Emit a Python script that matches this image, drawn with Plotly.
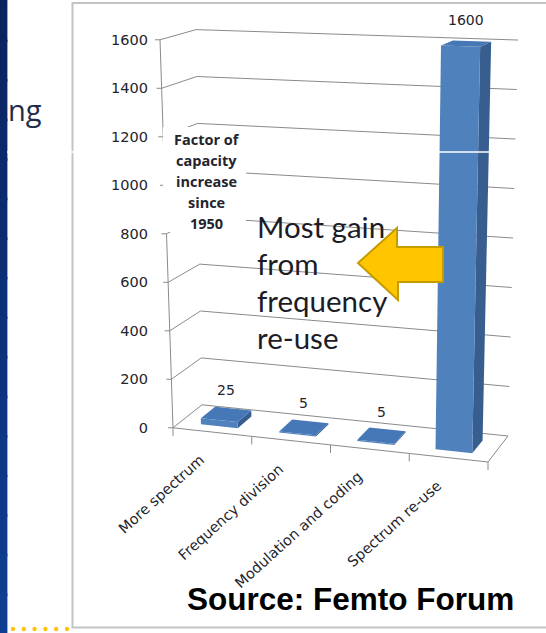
import plotly.graph_objects as go

# ---- chart content -------------------------------------------------------
categories = ["More spectrum", "Frequency division", "Modulation and coding", "Spectrum re-use"]
capacity_gain = [25, 5, 5, 1600]
value_ticks = [0, 200, 400, 600, 800, 1000, 1200, 1400, 1600]
value_tick_labels = [str(v) for v in value_ticks]
axis_caption = ["Factor of", "capacity", "increase", "since", "1950"]
callout_lines = ["Most gain", "from", "frequency", "re-use"]
source_text = "Source: Femto Forum"
heading_fragment = "ng"

# ---- page / axes geometry ------------------------------------------------
W, H = 546, 633
PLOT_LEFT = 152                      # px where the plotting area starts
VMAX = value_ticks[-1]
N = len(categories)
X_RANGE = [-0.7667, 4.2365]          # category units
Y_RANGE = [-846.2, 1764.1]           # value units

# Perspective box: projected corners of the front plane (depth 0) and of the
# back wall (depth 1). Key (s, t): s = 0/1 left/right end of the category
# axis, t = 0/1 floor/top of the value axis.  Result is in axis units.
FRONT = {(0, 0): (-0.5, 0.0), (0, 1): (-0.665, VMAX),
         (1, 0): (3.5, -141.0), (1, 1): (3.614, 1558.0)}
BACK = {(0, 0): (-0.132, 94.8), (0, 1): (-0.208, 1642.0),
        (1, 0): (3.754, -33.8), (1, 1): (3.881, 1599.0)}

BAR_HALF = 0.235        # half bar width, category units
BAR_DEPTH = (0.25, 0.75)

X_PER_PX = (X_RANGE[1] - X_RANGE[0]) / (W - PLOT_LEFT)
Y_PER_PX = (Y_RANGE[1] - Y_RANGE[0]) / H

GRID = "#8a8a8a"
TEXT = "#24242c"
FRONT_FILL, SIDE_FILL, TOP_FILL = "#4F81BD", "#375E8E", "#4677B6"


def proj(c, v, d):
    """Project (category position, value, depth) onto the 2-D axes."""
    s = (c + 0.5) / N
    t = v / VMAX
    w = {(0, 0): (1 - s) * (1 - t), (1, 0): s * (1 - t),
         (0, 1): (1 - s) * t, (1, 1): s * t}
    fx = sum(FRONT[k][0] * w[k] for k in w)
    fy = sum(FRONT[k][1] * w[k] for k in w)
    bx = sum(BACK[k][0] * w[k] for k in w)
    by = sum(BACK[k][1] * w[k] for k in w)
    return fx + (bx - fx) * d, fy + (by - fy) * d


def poly(points):
    xs = [p[0] for p in points] + [points[0][0]]
    ys = [p[1] for p in points] + [points[0][1]]
    return xs, ys


def line_trace(segments, color=GRID, width=1):
    xs, ys = [], []
    for seg in segments:
        for p in seg:
            xs.append(p[0])
            ys.append(p[1])
        xs.append(None)
        ys.append(None)
    return go.Scatter(x=xs, y=ys, mode="lines", hoverinfo="skip",
                      line=dict(color=color, width=width), showlegend=False)


fig = go.Figure()

left_c, right_c = -0.5, N - 0.5

# gridlines: side wall then back wall
grid = [[proj(left_c, v, 0), proj(left_c, v, 1), proj(right_c, v, 1)] for v in value_ticks]
fig.add_trace(line_trace(grid))

# floor front and right edges
fig.add_trace(line_trace([[proj(left_c, 0, 0), proj(right_c, 0, 0), proj(right_c, 0, 1)]]))

# category tick marks on the floor front edge
tick_down = 8 * Y_PER_PX
floor_ticks = []
for k in range(N + 1):
    x0, y0 = proj(left_c + k, 0, 0)
    floor_ticks.append([(x0, y0), (x0, y0 - tick_down)])
fig.add_trace(line_trace(floor_ticks))

# value axis line (front-left edge) and its tick marks
fig.add_trace(line_trace([[proj(left_c, v, 0) for v in (0, 800)],
                          [proj(left_c, v, 0) for v in (950, VMAX)]]))
tick_left = 5 * X_PER_PX
val_ticks = []
for v in value_ticks:
    x0, y0 = proj(left_c, v, 0)
    val_ticks.append([(x0 - tick_left, y0), (x0, y0)])
fig.add_trace(line_trace(val_ticks))

# 3-D bars
d0, d1 = BAR_DEPTH
for i, val in enumerate(capacity_gain):
    c0, c1 = i - BAR_HALF, i + BAR_HALF
    faces = [
        ([proj(c1, 0, d0), proj(c1, 0, d1), proj(c1, val, d1), proj(c1, val, d0)], SIDE_FILL),
        ([proj(c0, 0, d0), proj(c1, 0, d0), proj(c1, val, d0), proj(c0, val, d0)], FRONT_FILL),
        ([proj(c0, val, d0), proj(c1, val, d0), proj(c1, val, d1), proj(c0, val, d1)], TOP_FILL),
    ]
    for pts, col in faces:
        xs, ys = poly(pts)
        fig.add_trace(go.Scatter(x=xs, y=ys, mode="lines", fill="toself",
                                 fillcolor=col, line=dict(width=0, color=col),
                                 hoverinfo="skip", showlegend=False))

annotations = []

# value labels above each bar
for i, val in enumerate(capacity_gain):
    x, y = proj(i, val, 0.5)
    annotations.append(dict(x=x, y=y, xref="x", yref="y", text=str(val),
                            showarrow=False, yanchor="bottom", yshift=14,
                            font=dict(family="DejaVu Sans", size=14, color=TEXT)))

# rotated category labels under the floor
for i, name in enumerate(categories):
    x, y = proj(i, 0, 0)
    annotations.append(dict(x=x, y=y, xref="x", yref="y", text=name,
                            showarrow=False, textangle=-42,
                            xanchor="right", yanchor="top", yshift=-17, xshift=-2,
                            font=dict(family="DejaVu Sans", size=14.5, color=TEXT)))


def px(xp, yp):
    return xp / W, 1 - yp / H


# value axis caption
for k, line in enumerate(axis_caption):
    x, y = px(206.5, 139.5 + 21 * k)
    annotations.append(dict(x=x, y=y, xref="paper", yref="paper", text="<b>%s</b>" % line,
                            showarrow=False, xanchor="center", yanchor="middle",
                            font=dict(family="Open Sans", size=14.5, color=TEXT)))

# call-out text
for k, line in enumerate(callout_lines):
    x, y = px(255, 226 + 37.2 * k)
    annotations.append(dict(x=x, y=y, xref="paper", yref="paper", text=line,
                            showarrow=False, xanchor="left", yanchor="middle",
                            font=dict(family="Lato", size=29.5, color="#1c1c26")))

# source line
x, y = px(350, 599)
annotations.append(dict(x=x, y=y, xref="paper", yref="paper", text="<b>%s</b>" % source_text,
                        showarrow=False, xanchor="center", yanchor="middle",
                        font=dict(family="Liberation Sans", size=31.5, color="#000000")))

# heading fragment on the slide
x, y = px(6, 110)
annotations.append(dict(x=x, y=y, xref="paper", yref="paper", text=heading_fragment,
                        showarrow=False, xanchor="left", yanchor="middle",
                        font=dict(family="Open Sans", size=29, color="#222c48")))

shapes = []

# slide edge gradient strip (overlapping bands so no seams show)
bands = 16
for k in range(bands):
    f = k / (bands - 1)
    r = int(10 + f * (16 - 10))
    g = int(36 + f * (62 - 36))
    b = int(96 + f * (146 - 96))
    shapes.append(dict(type="rect", xref="paper", yref="paper", layer="below",
                       x0=0, x1=7 / W, y0=max(0, 1 - (k + 1) / bands - 0.004),
                       y1=1 - k / bands,
                       fillcolor="rgb(%d,%d,%d)" % (r, g, b),
                       line=dict(width=0.8, color="rgb(%d,%d,%d)" % (r, g, b))))

# chart frame
x0, y0 = px(72.5, 627.5)
x1, y1 = px(W + 10, 3)
shapes.append(dict(type="rect", xref="paper", yref="paper", layer="below",
                   x0=x0, x1=x1, y0=y0, y1=y1, line=dict(color="#c4c4c4", width=2)))

# decorative dotted rule
for k in range(6):
    cx, cy = px(13 + 10.8 * k, 629)
    shapes.append(dict(type="circle", xref="paper", yref="paper", layer="below",
                       x0=cx - 2.2 / W, x1=cx + 2.2 / W, y0=cy - 2.2 / H, y1=cy + 2.2 / H,
                       fillcolor="#FFC20E", line=dict(width=0)))

# white backing of the axis caption box
x0, y0 = px(163, 232)
x1, y1 = px(246, 127)
shapes.append(dict(type="rect", xref="paper", yref="paper", layer="above",
                   x0=x0, x1=x1, y0=y0, y1=y1, fillcolor="white", line=dict(width=0)))

# block arrow pointing at the call-out
arrow_pts = [(358, 263), (397, 228), (397, 247), (443, 247), (443, 282), (398, 282), (398, 300)]
path = "M " + " L ".join("%.4f,%.4f" % px(a, b) for a, b in arrow_pts) + " Z"
shapes.append(dict(type="path", xref="paper", yref="paper", layer="above", path=path,
                   fillcolor="#FFC600", line=dict(color="#C59B00", width=2)))

# thin light seam across the slide
x0, y0 = px(7, 152)
x1, _ = px(W, 152)
shapes.append(dict(type="line", xref="paper", yref="paper", layer="above",
                   x0=x0, x1=x1, y0=y0, y1=y0, line=dict(color="white", width=1.5)))

fig.update_layout(
    width=W, height=H, autosize=False,
    margin=dict(l=0, r=0, t=0, b=0),
    paper_bgcolor="white", plot_bgcolor="rgba(0,0,0,0)",
    showlegend=False,
    xaxis=dict(range=X_RANGE, domain=[PLOT_LEFT / W, 1], visible=False, fixedrange=True),
    yaxis=dict(range=Y_RANGE, domain=[0, 1], tickmode="array", tickvals=value_ticks,
               ticktext=value_tick_labels, showgrid=False, zeroline=False, showline=False,
               ticks="", ticklabelstandoff=3, fixedrange=True,
               tickfont=dict(family="DejaVu Sans", size=14.5, color=TEXT)),
    annotations=annotations,
    shapes=shapes,
)

fig.write_html("out.html")
